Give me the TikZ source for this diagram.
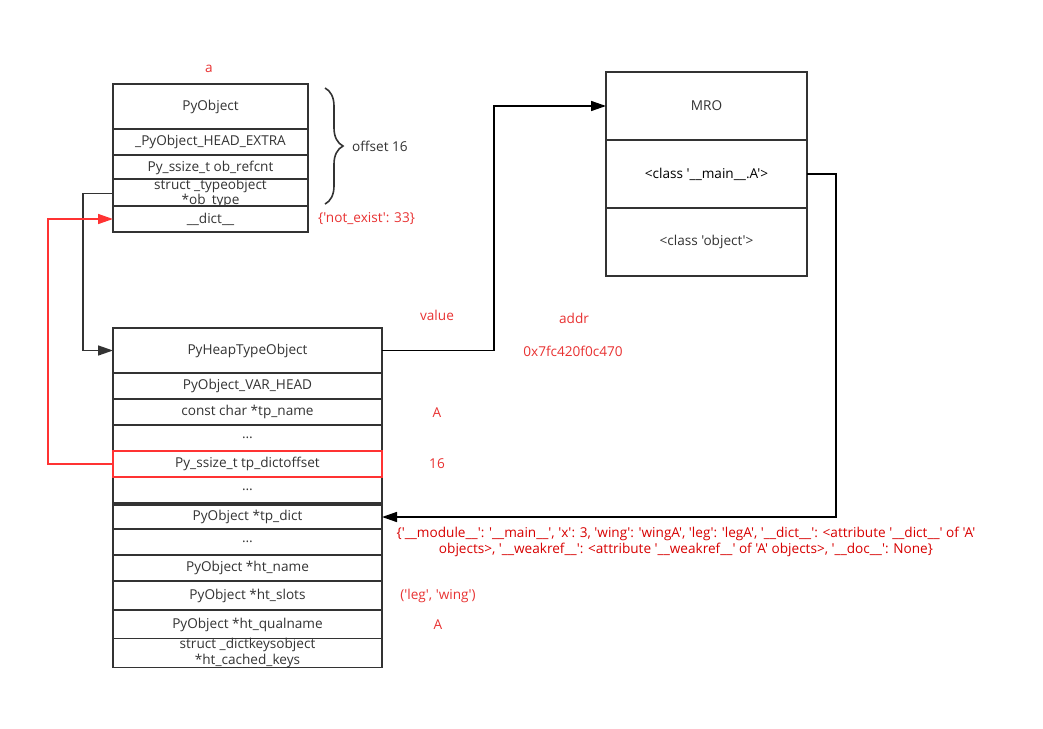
\documentclass[tikz,border=0pt]{standalone}
\usepackage{fontspec}
\setmainfont{Open Sans}[Ligatures=TeXOff]
\usetikzlibrary{arrows.meta,decorations.pathreplacing}
\definecolor{boxline}{RGB}{51,51,51}
\definecolor{notered}{RGB}{232,50,50}
\definecolor{dictred}{RGB}{215,0,0}
\definecolor{linkred}{RGB}{255,51,51}
\tikzset{
  field/.style={draw=boxline, line width=1.5pt, fill=white, inner sep=0pt, outer sep=0pt,
    text=boxline, align=center, minimum width=#1},
  link/.style={draw=black, line width=1.5pt, -{Triangle[length=15pt,width=10pt]}},
  note/.style={text=notered, inner sep=0pt}
}
\begin{document}
\begin{tikzpicture}[x=1pt,y=-1pt,font=\fontsize{13.6}{15.5}\selectfont]
\useasboundingbox (0,0) rectangle (1043,728);

% instance a
\foreach \nm/\yc/\h/\txt in {pyobj/106.5/45/PyObject, headextra/142/26/\_PyObject\_HEAD\_EXTRA,
    refcnt/168/26/Py\_ssize\_t ob\_refcnt, obtype/193.5/25/{struct \_typeobject\\{}*ob\_type},
    objdict/219/26/\_\_dict\_\_}{
  \node[field=195pt, minimum height=\h pt] (\nm) at (210.5,\yc) {\txt};
}
\draw[boxline, line width=1.6pt, decorate, decoration={brace, amplitude=18pt}]
  ([xshift=17pt,yshift=-4pt]pyobj.north east) -- ([xshift=17pt,yshift=4pt]obtype.south east);
\node[anchor=west, inner sep=0pt, text=boxline] (offsetlbl) at (352,146) {offset 16};

% class A
\foreach \nm/\yc/\h/\txt in {heaptype/350.5/45/PyHeapTypeObject, varhead/386/26/PyObject\_VAR\_HEAD,
    tpname/412/26/const char *tp\_name, dotsa/438/26/\ldots, dictoffset/464/26/Py\_ssize\_t tp\_dictoffset,
    dotsb/490/26/\ldots, tpdict/517/24/PyObject *tp\_dict, dotsc/542/26/\ldots,
    htname/568/26/PyObject *ht\_name, htslots/595.5/29/PyObject *ht\_slots,
    qualname/624.5/29/PyObject *ht\_qualname,
    cachedkeys/653/28/{struct \_dictkeysobject\\{}*ht\_cached\_keys}}{
  \node[field=269pt, minimum height=\h pt] (\nm) at (247.5,\yc) {\txt};
}
\node[field=269pt, minimum height=26pt, draw=linkred] at (dictoffset) {Py\_ssize\_t tp\_dictoffset};

% mro tuple
\node[field=201pt, minimum height=68pt] (mro) at (706.5,106) {MRO};
\node[field=201pt, minimum height=68pt, text=black] (mainA) at (706.5,174) {<class '\_\_main\_\_.A'>};
\node[field=201pt, minimum height=68pt] (objcls) at (706.5,242) {<class 'object'>};

% values
\node[note] (aname) at (209,69) {a};
\node[note, anchor=west] (notexist) at (318,219) {\{'not\_exist': 33\}};
\node[note] (valuelbl) at (437,315) {value};
\node[note] (addrlbl) at (574,318) {addr};
\node[note] (addrval) at (573,351) {0x7fc420f0c470};
\node[note] (tpnameval) at (437,413) {A};
\node[note] (offsetval) at (437,464) {16};
\node[note, text=dictred, align=center] (dictval) at (686,542)
  {\{'\_\_module\_\_': '\_\_main\_\_', 'x': 3, 'wing': 'wingA', 'leg': 'legA', '\_\_dict\_\_': <attribute '\_\_dict\_\_' of 'A'\\
   objects>, '\_\_weakref\_\_': <attribute '\_\_weakref\_\_' of 'A' objects>, '\_\_doc\_\_': None\}};
\node[note] (slotsval) at (438,596) {('leg', 'wing')};
\node[note] (qualval) at (438,625) {A};

% pointers
\draw[link, draw=boxline] (obtype.west) -- ++(-30,0) |- (heaptype.west);
\draw[link, draw=linkred] (dictoffset.west) -- ++(-65,0) |- (objdict.west);
\draw[link] (heaptype.east) -- ++(112,0) |- (mro.west);
\draw[link] (mainA.east) -- ++(29,0) |- (tpdict.east);
\end{tikzpicture}
\end{document}
